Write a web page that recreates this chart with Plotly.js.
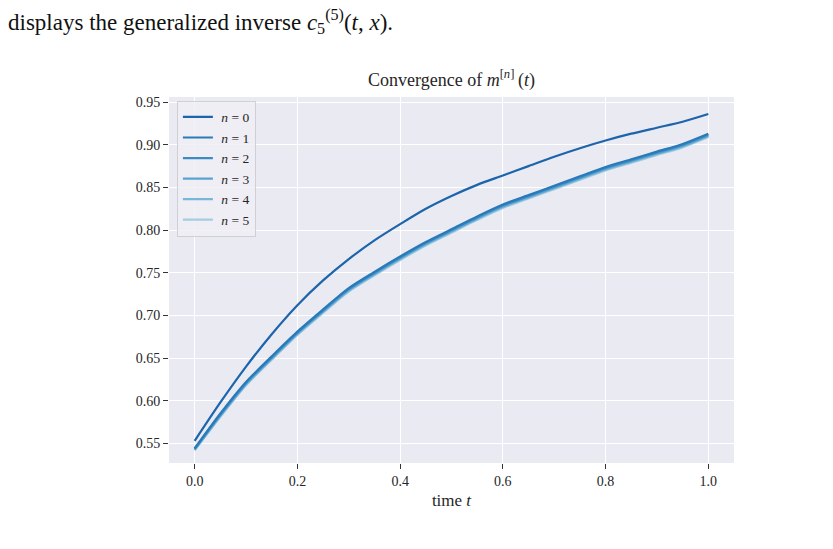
<!DOCTYPE html>
<html>
<head>
<meta charset="utf-8">
<script src="https://cdn.plot.ly/plotly-3.0.1.min.js"></script>
<style>html,body{margin:0;padding:0;background:#fff;} #chart{width:833px;height:549px;}</style>
</head>
<body>
<div id="chart"></div>
<script>
const t = [0.0,0.05,0.10,0.15,0.20,0.25,0.30,0.35,0.40,0.45,0.50,0.55,0.60,0.65,0.70,0.75,0.80,0.85,0.90,0.95,1.00];
const m0 = [0.553,0.598,0.640,0.678,0.712,0.741,0.766,0.788,0.807,0.825,0.840,0.853,0.864,0.875,0.886,0.896,0.905,0.913,0.920,0.927,0.936];
const m1 = [0.544,0.585,0.622,0.652,0.681,0.707,0.732,0.751,0.769,0.786,0.801,0.816,0.830,0.841,0.852,0.863,0.874,0.883,0.892,0.901,0.913];
const m2 = [0.544,0.584,0.621,0.651,0.680,0.706,0.731,0.750,0.768,0.785,0.800,0.815,0.829,0.840,0.851,0.862,0.873,0.882,0.891,0.900,0.912];
const m3 = [0.543,0.583,0.620,0.650,0.679,0.705,0.730,0.749,0.767,0.784,0.799,0.814,0.828,0.839,0.850,0.861,0.872,0.881,0.890,0.899,0.911];
const m4 = [0.542,0.582,0.619,0.649,0.678,0.704,0.729,0.748,0.766,0.783,0.798,0.813,0.827,0.838,0.849,0.860,0.871,0.880,0.889,0.898,0.910];
const m5 = [0.542,0.581,0.618,0.648,0.677,0.703,0.728,0.747,0.765,0.782,0.797,0.812,0.826,0.837,0.848,0.859,0.870,0.879,0.888,0.897,0.909];
const seriesNames = ['\u00a0<i>n</i> = 0','\u00a0<i>n</i> = 1','\u00a0<i>n</i> = 2','\u00a0<i>n</i> = 3','\u00a0<i>n</i> = 4','\u00a0<i>n</i> = 5'];
const xTickVals = [0,0.2,0.4,0.6,0.8,1.0];
const xTickText = ['0.0','0.2','0.4','0.6','0.8','1.0'];
const yTickVals = [0.55,0.60,0.65,0.70,0.75,0.80,0.85,0.90,0.95];
const yTickText = ['0.55','0.60','0.65','0.70','0.75','0.80','0.85','0.90','0.95'];
const colors = ['#1c64ab','#2a7aba','#3c8cc4','#5aa2cf','#7ab6d9','#a4cce3'];
const series = [m0,m1,m2,m3,m4,m5];

const traces = series.map((ys,i)=>({
  x: t, y: ys, type:'scatter', mode:'lines', name: seriesNames[i],
  line:{color:colors[i], width:2.2, shape:'spline', smoothing:0.8}
}));
const ordered = traces.slice().reverse();
const font = 'Liberation Serif';
const tf = {family:font, size:14, color:'#262626'};
const layout = {
  width:833, height:549,
  paper_bgcolor:'#ffffff', plot_bgcolor:'#EAEAF2',
  margin:{l:169, r:99, t:97, b:86},
  font:{family:font, size:14, color:'#262626'},
  title:{text:'Convergence of <i>m</i><sup>[<i>n</i>]</sup>\u2009(<i>t</i>)', x:0.5, xanchor:'center', xref:'paper', y:0.855, yanchor:'middle', yref:'container', font:{family:font, size:18, color:'#262626'}},
  xaxis:{range:[-0.05,1.05], tickvals:xTickVals, ticktext:xTickText, tickfont:tf,
    showgrid:true, gridcolor:'#ffffff', gridwidth:1, zeroline:false, showline:false,
    ticks:'outside', ticklen:5, tickcolor:'#333', tickwidth:1,
    title:{text:'time <i>t</i>', font:{family:font, size:17, color:'#262626'}, standoff:6}},
  yaxis:{range:[0.527,0.956], tickvals:yTickVals, ticktext:yTickText, tickfont:tf,
    showgrid:true, gridcolor:'#ffffff', gridwidth:1, zeroline:false, showline:false,
    ticks:'outside', ticklen:5, tickcolor:'#333', tickwidth:1},
  legend:{x:0.014, y:0.99, xanchor:'left', yanchor:'top', bgcolor:'rgba(238,238,245,0.85)', bordercolor:'#cfcfd6', borderwidth:1,
    font:{family:font, size:13.5, color:'#262626'}, itemwidth:30, tracegroupgap:0, traceorder:'reversed'},
  showlegend:true,
  annotations:[{xref:'paper', yref:'paper', x:(6-169)/565, y:1 + (97-21)/366, xanchor:'left', yanchor:'middle', showarrow:false,
    text:'displays the generalized inverse <i>c</i><sub>5</sub><sup>(5)</sup>(<i>t</i>, <i>x</i>).',
    font:{family:font, size:23, color:'#111'}}]
};
Plotly.newPlot('chart', ordered, layout, {displayModeBar:false, staticPlot:true});
</script>
</body>
</html>
